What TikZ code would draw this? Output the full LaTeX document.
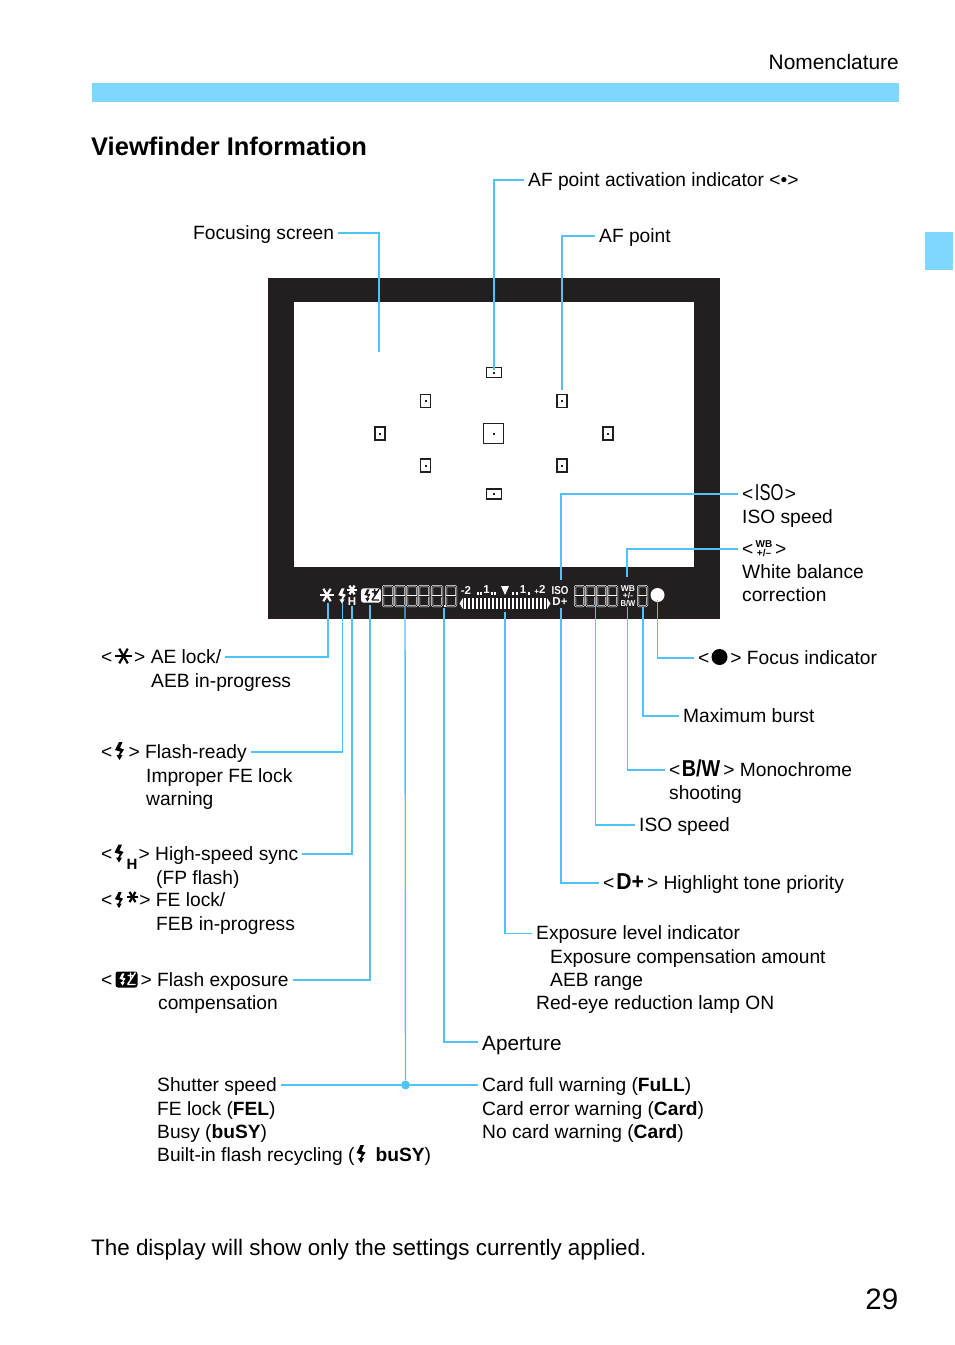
\documentclass[tikz,border=0pt]{standalone}
\usepackage{fontspec}
\setmainfont{Liberation Sans}
\usepackage{tikz}
\usetikzlibrary{positioning,calc}
\definecolor{LeaderBlue}{HTML}{4FC3F7}
\definecolor{BandBlue}{HTML}{7FD6FF}
\definecolor{FrameBlack}{HTML}{231F20}
\newcommand{\bodysize}{\fontsize{19.2}{23}\selectfont}
\tikzset{
  pics/boltmark/.style={code={
    \fill[#1] (-0.5,-9) -- (3,-9) -- (0.5,-3) -- (4.5,-1.5) -- (0.9,4) -- (3,4) -- (0,9) -- (-3,4) -- (-0.9,4) -- (0.8,0.6) -- (-4.5,-1) -- cycle;
  }},
  pics/starmark/.style={code={
    \foreach \ang in {0,60,120} \draw[#1, line width=2.2pt] (\ang:8.5) -- (\ang+180:8.5);
  }},
  pics/compmark/.style 2 args={code={
    \fill[#1, rounded corners=2.5pt] (-11,-8) rectangle (11,8);
    \pic[scale=.68] at (-4,0) {boltmark=#2};
    \draw[#2, line width=1.4pt] (1,-4) -- (7,-4) (4,-7) -- (4,-1) (1,5) -- (9,5) (9,-7) -- (1,5);
  }}
}
\begin{document}
\begin{tikzpicture}[x=1pt, y=-1pt,
    lbl/.style={font=\bodysize, anchor=base west, inner sep=0pt, text height=16pt, text depth=4pt},
    callout/.style={draw=LeaderBlue, line width=1.4pt, shorten <=4pt},
    afpoint/.style={draw=FrameBlack, line width=1.2pt, fill=white, inner sep=0pt},
    lcdtext/.style={text=white, font=\fontsize{11.5}{11.5}\selectfont\bfseries, inner sep=0pt},
    lcdsmall/.style={lcdtext, font=\fontsize{8.5}{8.5}\selectfont\bfseries},
    lcdseg/.style={draw=white, line width=.5pt, double=FrameBlack, double distance=1pt}
  ]
    \useasboundingbox (0,0) rectangle (954,1345);

    % Page furniture
    \node[lbl, anchor=base east, font=\fontsize{20.9}{24}\selectfont] (pageHead) at (899,69) {Nomenclature};
    \fill[BandBlue] (92,83) rectangle (899,102);
    \fill[BandBlue] (925,232) rectangle (953,270);
    \node[lbl, font=\fontsize{25.5}{30}\selectfont\bfseries] (pageTitle) at (91,155) {Viewfinder Information};
    \node[lbl, font=\fontsize{22.4}{26}\selectfont] (pageNote) at (91,1255) {The display will show only the settings currently applied.};
    \node[lbl, anchor=base east, font=\fontsize{29.5}{34}\selectfont] (pageNumber) at (898.5,1309) {29};

    % Viewfinder frame
    \fill[FrameBlack] (268,278) rectangle (720,619);
    \fill[white] (294,302) rectangle (694,567);

    % AF points
    \foreach \nm/\px/\py/\bw/\bh in {afTop/494/372.5/15/10, afUpL/425.5/401/10/13, afUpR/562/401/10/13,
        afFarL/380/433.5/10/13, afMid/493.5/433.5/20/20, afFarR/608/433.5/10/13,
        afLowL/425.5/465.5/10/13, afLowR/562/465.5/10/13, afBot/494/494/15/10} {
      \node[afpoint, minimum width=\bw, minimum height=\bh] (\nm) at (\px,\py) {};
      \fill[FrameBlack] (\px-1,\py-1) rectangle (\px+1,\py+1);
    }

    % Display strip
    \pic[scale=.85] at (327,595) {starmark=white};
    \pic[scale=.85] at (342,596) {boltmark=white};
    \pic[scale=.6] at (352,590) {starmark=white};
    \node[lcdtext] (lcdH) at (352,601.5) {H};
    \pic[scale=.9] at (371,595.5) {compmark={white}{FrameBlack}};
    \foreach \dx in {383,395,407,419,432,446} {
      \draw[lcdseg, rounded corners=1pt] (\dx,586) rectangle (\dx+10,606);
      \draw[lcdseg] (\dx,596) -- (\dx+10,596);
    }
    \foreach \dx in {575,586,597,608,638} {
      \draw[lcdseg, rounded corners=1pt] (\dx,586) rectangle (\dx+9,606);
      \draw[lcdseg] (\dx,596) -- (\dx+9,596);
    }
    \fill[white] (443.5,605) rectangle (445.5,607);
    \foreach \bx in {465,469,...,545} \fill[white] (\bx-1.4,598) rectangle (\bx+1.4,609);
    \fill[white] (463,598) -- (463,609) -- (459.5,603.5) -- cycle;
    \fill[white] (547,598) -- (547,609) -- (550.5,603.5) -- cycle;
    \foreach \bx in {478,481,492,495,513,517,529} \fill[white] (\bx-1,592) rectangle (\bx+1,595);
    \fill[white] (501,586) -- (509,586) -- (505,595) -- cycle;
    \node[lcdtext] (scaleMinus) at (466,590) {-2};
    \node[lcdtext] (scaleOneL) at (486.5,590) {1};
    \node[lcdtext] (scaleOneR) at (523,590) {1};
    \node[lcdtext] (scalePlus) at (540,590) {\raisebox{-.5pt}{\scalebox{.7}{+}}2};
    \node[lcdtext] (lcdIso) at (560,590.5) {\scalebox{.85}[1]{ISO}};
    \node[lcdtext] (lcdDplus) at (560,601.5) {D+};
    \node[lcdsmall] (lcdWb) at (628,588.5) {WB};
    \node[lcdsmall] (lcdPm) at (628,595.5) {+/-};
    \node[lcdsmall] (lcdBw) at (628,603) {\scalebox{.9}[1]{B/W}};
    \fill[white] (657.5,595) circle (7);

    % Leader ends
    \foreach \nm/\px/\py in {tipScreen/379/352, tipActive/494/370, tipAf/562/390, tipIso/561/580, tipWb/627/577,
        tipAe/328/603, tipFlash/342.5/603, tipSync/352/606, tipComp/370/605, tipShutter/405/606,
        tipAperture/444/608, tipExposure/505/612, tipTone/561/608, tipSpeed/595.5/606, tipMono/627.5/607,
        tipBurst/643/607, tipFocus/657.5/600} {
      \coordinate (\nm) at (\px,\py);
    }

    % Labels above and right of the frame
    \node[lbl] (lblScreen) at (193,239) {Focusing screen};
    \node[lbl] (lblActive) at (528,186) {AF point activation indicator <\textbullet>};
    \node[lbl] (lblAf) at (599,242) {AF point};
    \node[lbl] (lblIso) at (742,500) {<\hspace{1.5pt}\scalebox{.72}[1]{\fontsize{23}{23}\selectfont ISO}\hspace{1.5pt}>};
    \node[lbl] (lblIsoB) at (742,523) {ISO speed};
    \node[lbl] (lblWb) at (742,555) {<\hspace{21.8pt}>};
    \node[lcdtext, text=black, font=\fontsize{10}{10}\selectfont\bfseries] (iconWb) at (764,544.5) {WB};
    \node[lcdtext, text=black, font=\fontsize{10}{10}\selectfont\bfseries] (iconPm) at (764,552.5) {+/--};
    \node[lbl] (lblWbB) at (742,578) {White balance};
    \node[lbl] (lblWbC) at (742,601) {correction};

    % Labels below the frame, left side
    \node[lbl] (lblAe) at (101,663) {<\hspace{21.8pt}> AE lock/};
    \pic at (123.5,656) {starmark=black};
    \node[lbl] (lblAeB) at (151,687) {AEB in-progress};
    \node[lbl] (lblFlash) at (101,758) {<\hspace{16.3pt}> Flash-ready};
    \pic at (119.5,751) {boltmark=black};
    \node[lbl] (lblFlashB) at (146,782) {Improper FE lock};
    \node[lbl] (lblFlashC) at (146,805) {warning};
    \node[lbl] (lblSync) at (101,860) {<\hspace{26.3pt}> High-speed sync};
    \pic at (119,853.5) {boltmark=black};
    \node[lbl, font=\fontsize{15}{15}\selectfont\bfseries] (iconSyncH) at (126.5,869) {H};
    \node[lbl] (lblSyncB) at (156,884) {(FP flash)};
    \node[lbl] (lblFe) at (101,906) {<\hspace{27pt}> FE lock/};
    \pic[scale=.9] at (119,900) {boltmark=black};
    \pic[scale=.7] at (132.5,897) {starmark=black};
    \node[lbl] (lblFeB) at (156,930) {FEB in-progress};
    \node[lbl] (lblComp) at (101,986) {<\hspace{28.3pt}> Flash exposure};
    \pic at (126.5,979.5) {compmark={black}{white}};
    \node[lbl] (lblCompB) at (158,1009) {compensation};

    % Labels below the frame, centre
    \node[lbl] (lblShutter) at (157,1091) {Shutter speed};
    \node[lbl] (lblShutterB) at (157,1115) {FE lock (\textbf{FEL})};
    \node[lbl] (lblShutterC) at (157,1138) {Busy (\textbf{buSY})};
    \node[lbl] (lblShutterD) at (157,1161) {Built-in flash recycling (\hspace{21pt}\textbf{buSY})};
    \pic at (361,1154) {boltmark=black};
    \node[lbl] (lblCardFull) at (482,1091) {Card full warning (\textbf{FuLL})};
    \node[lbl] (lblCardErr) at (482,1115) {Card error warning (\textbf{Card})};
    \node[lbl] (lblCardNone) at (482,1138) {No card warning (\textbf{Card})};
    \node[lbl, font=\fontsize{20.7}{24}\selectfont, text height=18pt, text depth=2pt] (lblAperture) at (482,1050) {Aperture};
    \node[lbl] (lblExposure) at (536,939.5) {Exposure level indicator};
    \node[lbl] (lblExposureB) at (550,963) {Exposure compensation amount};
    \node[lbl] (lblExposureC) at (550,986) {AEB range};
    \node[lbl] (lblExposureD) at (536,1009) {Red-eye reduction lamp ON};

    % Labels below the frame, right side
    \node[lbl] (lblTone) at (603,889) {<\hspace{2pt}\scalebox{.92}[1]{\fontsize{23}{23}\selectfont\bfseries D+}\hspace{3pt}> Highlight tone priority};
    \node[lbl] (lblSpeed) at (639,831) {ISO speed};
    \node[lbl] (lblMono) at (669,776) {<\hspace{1.5pt}\scalebox{.86}[1]{\fontsize{23}{23}\selectfont\bfseries B/W}\hspace{3pt}> Monochrome};
    \node[lbl] (lblMonoB) at (669,799) {shooting};
    \node[lbl] (lblBurst) at (683,722) {Maximum burst};
    \node[lbl] (lblFocus) at (698,664) {<\hspace{20.9pt}> Focus indicator};
    \fill[black] (719.5,657) circle (8);

    % Leaders
    \draw[callout] (lblScreen.east) -| (tipScreen);
    \draw[callout] (lblActive.west) -| (tipActive);
    \draw[callout] (lblAf.west) -| (tipAf);
    \draw[callout] (lblIso.west) -| (tipIso);
    \draw[callout] (lblWb.west) -| (tipWb);
    \draw[callout] (lblAe.east) -| (tipAe);
    \draw[callout] (lblFlash.east) -| (tipFlash);
    \draw[callout] (lblSync.east) -| (tipSync);
    \draw[callout] (lblComp.east) -| (tipComp);
    \draw[callout] (lblAperture.west) -| (tipAperture);
    \draw[callout] (lblExposure.west) -| (tipExposure);
    \draw[callout] (lblTone.west) -| (tipTone);
    \draw[callout] (lblSpeed.west) -| (tipSpeed);
    \draw[callout] (lblMono.west) -| (tipMono);
    \draw[callout] (lblBurst.west) -| (tipBurst);
    \draw[callout] (lblFocus.west) -| (tipFocus);
    \node[circle, fill=LeaderBlue, inner sep=0pt, minimum size=9pt] (shutterJoin) at (405.5,1085) {};
    \draw[callout] (lblShutter.east) -- (shutterJoin);
    \draw[callout] (lblCardFull.west) -- (shutterJoin);
    \draw[callout, shorten <=0pt] (shutterJoin) -- (tipShutter);
  \end{tikzpicture}
\end{document}
